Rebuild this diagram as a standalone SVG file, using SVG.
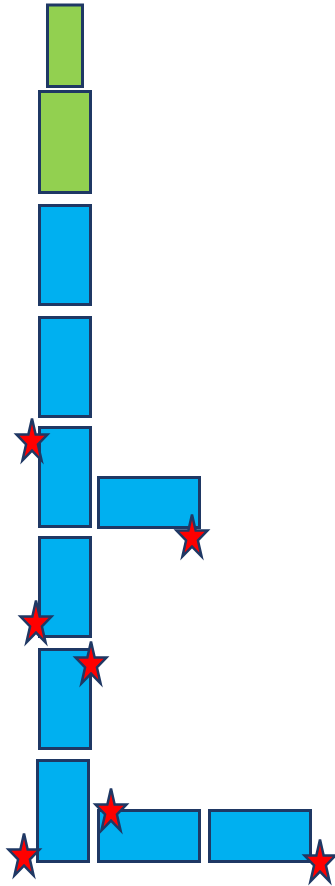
<svg xmlns="http://www.w3.org/2000/svg" xmlns:xlink="http://www.w3.org/1999/xlink" width="335" height="886" viewBox="0 0 335 886">
<style>
.g{fill:#92D050;stroke:#1F3864;stroke-width:3}
.b{fill:#00B0F0;stroke:#1F3864;stroke-width:3}
.s{fill:#FF0000;stroke:#1F3864;stroke-width:2.5;stroke-linejoin:miter}
</style>
<defs>
<path id="star" d="M15.5,0 L19.15,16.04 L31,16.04 L21.43,25.94 L25.08,42 L15.5,32.08 L5.92,42 L9.57,25.94 L0,16.04 L11.85,16.04 Z"/>
</defs>
<g id="nodes">
<g id="g1"><rect class="g" x="47.5" y="5" width="35" height="81.5"/></g>
<g id="g2"><rect class="g" x="39.5" y="91.5" width="51" height="101"/></g>
<g id="b1"><rect class="b" x="39.5" y="205.5" width="51" height="99"/></g>
<g id="b2"><rect class="b" x="39.5" y="317.5" width="51" height="99"/></g>
<g id="b3"><rect class="b" x="39.5" y="427.5" width="51" height="99"/></g>
<g id="h1"><rect class="b" x="98.5" y="477.5" width="101" height="50"/></g>
<g id="b4"><rect class="b" x="39.5" y="537.5" width="51" height="99"/></g>
<g id="b5"><rect class="b" x="39.5" y="649.5" width="51" height="99"/></g>
<g id="b6"><rect class="b" x="37.5" y="760.5" width="51" height="101"/></g>
<g id="h2"><rect class="b" x="98.5" y="810.5" width="101" height="51"/></g>
<g id="h3"><rect class="b" x="209.5" y="810.5" width="101" height="51"/></g>
</g>
<g id="stars">
<use xlink:href="#star" class="s" x="16.5" y="418.5"/>
<use xlink:href="#star" class="s" x="176.5" y="514.5"/>
<use xlink:href="#star" class="s" x="20.5" y="600.5"/>
<use xlink:href="#star" class="s" x="75.5" y="641.5"/>
<use xlink:href="#star" class="s" x="8.5" y="833.5"/>
<use xlink:href="#star" class="s" x="95.5" y="788.5"/>
<use xlink:href="#star" class="s" x="304.5" y="839.5"/>
</g>
</svg>
